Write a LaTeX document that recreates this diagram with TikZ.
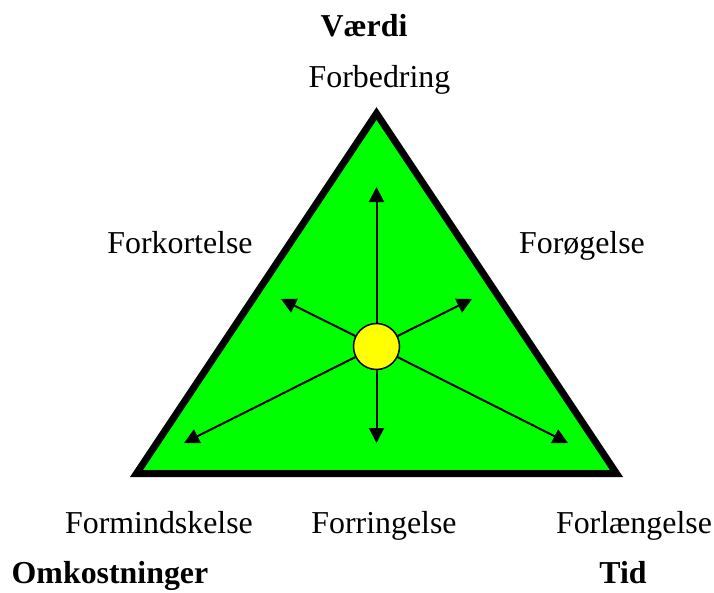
\documentclass[tikz,border=0pt]{standalone}
\usepackage{fontspec}
\setmainfont{Liberation Serif}
\usetikzlibrary{arrows.meta}
\definecolor{tgreen}{RGB}{0,255,0}
\definecolor{tyellow}{RGB}{255,255,0}
\tikzset{
  lbl/.style={anchor=base,inner sep=0pt,font=\fontsize{32}{38}\selectfont},
  blbl/.style={lbl,font=\fontsize{32}{38}\selectfont\bfseries},
  arr/.style={draw=black,line width=2bp,-{Triangle[length=15bp,width=15bp]}},
}
\begin{document}
\begin{tikzpicture}[x=1bp,y=-1bp]
\useasboundingbox (0,0) rectangle (714,593);
\coordinate (A) at (376.5,113.5);
\coordinate (L) at (136.5,473.5);
\coordinate (R) at (616.5,473.5);
\draw[line width=7bp,fill=tgreen,line join=miter] (A) -- (L) -- (R) -- cycle;
\node[circle,draw=black,line width=1.5bp,fill=tyellow,minimum size=46bp,inner sep=0pt] (c) at (376.5,346.5) {};
\coordinate (tU) at (376.5,187);
\coordinate (tD) at (376.5,443);
\coordinate (tLU) at (281,299);
\coordinate (tRU) at (472,299);
\coordinate (tLD) at (184,443);
\coordinate (tRD) at (568,443);
\foreach \t in {tU,tD,tLU,tRU,tLD,tRD} \draw[arr] (c) -- (\t);
\node[blbl] (v) at (364,37) {Værdi};
\node[lbl] (fb) at (379.5,88) {Forbedring};
\node[lbl] (fk) at (180,253) {Forkortelse};
\node[lbl] (fo) at (582,253) {Forøgelse};
\node[lbl] (fm) at (159,533) {Formindskelse};
\node[lbl] (fr) at (384,533) {Forringelse};
\node[lbl] (fl) at (634,533) {Forlængelse};
\node[blbl] (om) at (110,583) {Omkostninger};
\node[blbl] (td) at (623,583) {Tid};
\end{tikzpicture}
\end{document}
